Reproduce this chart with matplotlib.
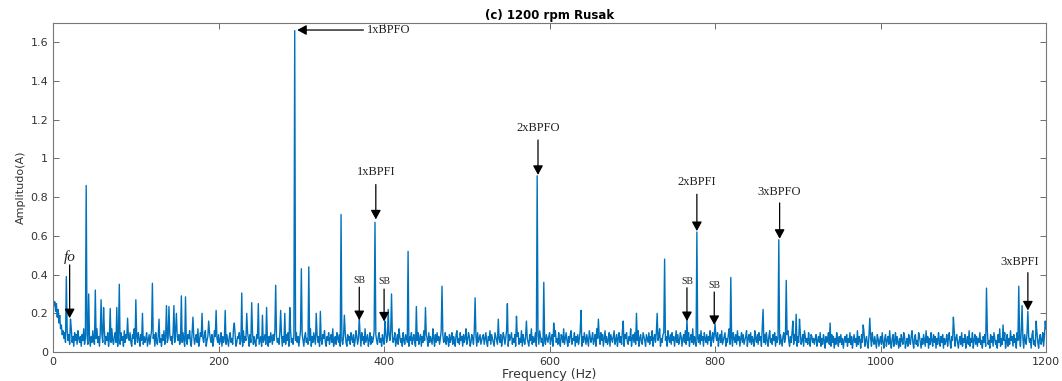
import numpy as np
import matplotlib
matplotlib.use("Agg")
import matplotlib.pyplot as plt
from matplotlib.ticker import FormatStrFormatter

# noise floor of the spectrum, 1 Hz bins from 0 to 1200 Hz, in units of 0.01 A
floor_raw = [
    27, 24, 26, 21, 25, 18, 22, 15, 19, 12, 14, 9, 11, 7, 10, 5, 8, 11, 6, 9, 4, 7, 12, 5, 8, 3, 10, 6, 9, 4, 11, 7, 5, 8, 3, 9, 6, 12, 4, 7,
    6, 9, 4, 10, 7, 3, 8, 5, 11, 6, 4, 9, 7, 12, 5, 8, 3, 10, 6, 9, 5, 7, 11, 4, 8, 6, 10, 3, 7, 9, 5, 12, 6, 4, 8, 10, 5, 7, 3, 9,
    7, 4, 10, 6, 8, 3, 11, 5, 9, 7, 4, 8, 6, 10, 5, 3, 9, 7, 12, 4, 6, 8, 5, 10, 7, 3, 9, 6, 11, 4, 8, 5, 7, 10, 3, 6, 9, 4, 8, 11,
    5, 7, 9, 3, 10, 6, 4, 8, 12, 5, 7, 3, 9, 6, 11, 4, 8, 10, 5, 7, 3, 9, 6, 8, 4, 10, 7, 5, 11, 3, 8, 6, 9, 4, 7, 12, 5, 10, 6, 3,
    8, 6, 4, 9, 7, 11, 5, 3, 10, 6, 8, 4, 7, 9, 5, 12, 3, 6, 10, 8, 4, 7, 5, 9, 11, 3, 6, 8, 4, 10, 7, 5, 9, 3, 6, 11, 8, 4, 7, 5,
    9, 4, 6, 10, 3, 8, 5, 7, 11, 4, 9, 6, 3, 8, 10, 5, 7, 4, 12, 6, 9, 3, 5, 8, 7, 10, 4, 6, 9, 3, 11, 5, 8, 6, 4, 10, 7, 3, 9, 5,
    6, 10, 4, 8, 5, 3, 9, 7, 11, 4, 6, 8, 3, 10, 5, 7, 9, 4, 12, 6, 3, 8, 5, 10, 7, 4, 9, 6, 11, 3, 8, 5, 7, 4, 10, 6, 9, 3, 8, 5,
    7, 4, 9, 6, 10, 3, 8, 11, 5, 7, 4, 9, 13, 6, 10, 5, 8, 3, 7, 11, 4, 9, 6, 3, 8, 10, 5, 7, 4, 9, 6, 12, 3, 8, 5, 10, 7, 4, 6, 9,
    5, 8, 3, 10, 6, 4, 9, 7, 11, 5, 3, 8, 6, 10, 4, 7, 9, 5, 12, 3, 6, 8, 4, 10, 7, 5, 9, 3, 11, 6, 4, 8, 7, 10, 5, 3, 9, 6, 8, 4,
    10, 7, 5, 9, 3, 6, 11, 8, 4, 7, 5, 9, 3, 10, 6, 8, 4, 12, 5, 7, 9, 3, 6, 10, 4, 8, 5, 7, 11, 3, 9, 6, 4, 8, 10, 5, 7, 3, 9, 6,
    4, 8, 10, 5, 7, 3, 9, 6, 11, 4, 8, 5, 7, 10, 3, 6, 9, 4, 12, 8, 5, 7, 3, 10, 6, 4, 9, 7, 5, 11, 3, 8, 6, 10, 4, 7, 9, 5, 3, 8,
    6, 10, 4, 7, 9, 3, 8, 5, 11, 6, 4, 9, 7, 3, 10, 5, 8, 6, 4, 12, 7, 3, 9, 5, 10, 6, 8, 4, 7, 11, 3, 9, 5, 6, 10, 4, 8, 7, 3, 9,
    5, 7, 10, 4, 8, 6, 3, 9, 11, 5, 7, 4, 10, 6, 8, 3, 9, 5, 7, 12, 4, 6, 10, 8, 3, 5, 9, 7, 4, 11, 6, 8, 3, 10, 5, 7, 9, 4, 6, 8,
    9, 4, 7, 10, 5, 3, 8, 6, 11, 4, 9, 7, 5, 3, 10, 8, 6, 4, 12, 7, 5, 9, 3, 6, 10, 8, 4, 7, 11, 5, 3, 9, 6, 8, 10, 4, 7, 5, 9, 3,
    6, 8, 10, 4, 7, 5, 11, 3, 9, 6, 4, 8, 10, 7, 5, 3, 9, 6, 12, 4, 8, 5, 7, 10, 3, 6, 9, 4, 11, 8, 5, 7, 3, 10, 6, 4, 9, 7, 5, 8,
    10, 4, 7, 9, 3, 6, 8, 11, 5, 7, 4, 10, 6, 3, 9, 8, 5, 12, 4, 7, 10, 6, 3, 8, 5, 9, 11, 4, 7, 6, 10, 3, 8, 5, 9, 4, 7, 11, 6, 3,
    8, 5, 10, 7, 4, 9, 6, 3, 11, 8, 5, 7, 10, 4, 6, 9, 3, 12, 7, 5, 8, 4, 10, 6, 9, 3, 7, 11, 5, 8, 4, 6, 10, 3, 9, 7, 5, 8, 11, 4,
    6, 9, 3, 7, 10, 5, 8, 4, 11, 6, 3, 9, 7, 10, 5, 4, 8, 6, 12, 3, 7, 9, 5, 10, 4, 8, 6, 11, 3, 7, 9, 5, 4, 10, 8, 6, 3, 9, 7, 5,
    10, 4, 8, 6, 11, 3, 7, 9, 5, 10, 4, 6, 8, 12, 3, 7, 5, 9, 10, 4, 6, 8, 3, 11, 7, 5, 9, 4, 10, 6, 8, 3, 7, 11, 5, 9, 4, 6, 10, 8,
    3, 7, 9, 5, 11, 4, 8, 6, 10, 3, 7, 9, 5, 12, 4, 8, 6, 3, 10, 7, 5, 9, 4, 11, 6, 8, 3, 10, 7, 5, 9, 4, 8, 6, 11, 3, 7, 10, 5, 9,
    4, 8, 6, 10, 3, 7, 9, 5, 11, 4, 6, 8, 10, 3, 7, 5, 9, 12, 4, 6, 8, 3, 10, 7, 5, 9, 4, 11, 6, 8, 3, 7, 10, 5, 9, 4, 6, 8, 11, 3,
    7, 9, 5, 10, 4, 8, 6, 3, 11, 7, 5, 9, 4, 10, 6, 8, 3, 12, 7, 5, 9, 4, 10, 6, 3, 8, 11, 5, 7, 4, 9, 6, 10, 3, 8, 5, 7, 11, 4, 9,
    6, 3, 8, 10, 5, 7, 4, 9, 11, 6, 3, 8, 5, 10, 7, 4, 9, 6, 12, 3, 8, 5, 7, 10, 4, 6, 9, 3, 11, 8, 5, 7, 4, 10, 6, 3, 9, 8, 5, 7,
    4, 7, 9, 3, 6, 8, 5, 10, 3, 7, 4, 9, 6, 2, 8, 5, 7, 10, 4, 6, 3, 9, 5, 8, 2, 7, 4, 10, 6, 3, 8, 5, 9, 4, 7, 2, 6, 8, 5, 9,
    3, 7, 5, 10, 4, 8, 2, 6, 9, 5, 7, 3, 11, 4, 8, 6, 2, 9, 5, 7, 10, 3, 6, 8, 4, 2, 9, 5, 7, 3, 10, 6, 4, 8, 5, 2, 9, 7, 3, 6,
    8, 4, 10, 5, 2, 7, 9, 3, 6, 8, 4, 11, 5, 2, 7, 9, 3, 6, 10, 4, 8, 5, 2, 7, 3, 9, 6, 4, 10, 8, 2, 5, 7, 3, 9, 6, 4, 8, 11, 5,
    2, 7, 9, 4, 6, 3, 10, 8, 5, 2, 7, 4, 9, 6, 3, 11, 5, 8, 2, 7, 4, 10, 6, 3, 9, 5, 8, 2, 7, 4, 10, 6, 3, 8, 5, 9, 2, 7, 4, 6,
    9, 3, 7, 10, 5, 2, 8, 6, 4, 11, 3, 7, 9, 5, 2, 6, 8, 4, 10, 3, 7, 5, 9, 2, 6, 8, 4, 11, 3, 7, 5, 10, 2, 6, 9, 4, 8, 3, 7, 5,
    10, 4, 6, 2, 8, 5, 9, 3, 7, 11, 4, 6, 2, 9, 5, 8, 3, 10, 7, 4, 6, 2, 9, 5, 12, 3, 7, 4, 8, 6, 10, 2, 5, 9, 3, 7, 4, 11, 6, 8,
    3, 9, 5, 7, 2, 10, 6, 4, 8, 3, 11, 5, 7, 2, 9, 6, 4, 10, 3, 8, 5, 7, 2, 9, 11, 4, 6, 3, 8, 10, 5, 2, 7, 9, 4, 6, 10, 3, 8, 5, 12,
]

# spectral lines standing above the floor (Hz, A)
peak_freq = [16, 21, 40, 43, 51, 58, 61, 69, 77, 80, 90, 100, 108, 120, 128, 137, 140, 146, 149,
             155, 160, 169, 180, 188, 197, 208, 219, 228, 234, 240, 248, 253, 258, 269, 275, 280,
             286, 292, 300, 309, 318, 323, 348, 352, 370, 389, 401, 405, 409, 429, 439, 450, 470,
             510, 538, 549, 560, 572, 585, 593, 605, 638, 659, 689, 705, 730, 739, 766, 778, 800,
             819, 858, 877, 886, 894, 898, 902, 939, 979, 987, 1088, 1128, 1148, 1167, 1171, 1178,
             1188, 1199]
peak_amp = [0.39, 0.17, 0.86, 0.30, 0.32, 0.27, 0.23, 0.225, 0.23, 0.35, 0.175, 0.27, 0.20, 0.355,
            0.17, 0.24, 0.235, 0.24, 0.20, 0.29, 0.285, 0.18, 0.20, 0.16, 0.215, 0.215, 0.15, 0.305,
            0.20, 0.255, 0.25, 0.19, 0.23, 0.345, 0.215, 0.20, 0.23, 1.66, 0.43, 0.44, 0.20, 0.21,
            0.71, 0.19, 0.18, 0.67, 0.16, 0.22, 0.30, 0.52, 0.235, 0.23, 0.34, 0.28, 0.17, 0.25,
            0.185, 0.16, 0.91, 0.36, 0.15, 0.215, 0.17, 0.16, 0.20, 0.20, 0.48, 0.17, 0.62, 0.145,
            0.385, 0.22, 0.58, 0.37, 0.16, 0.195, 0.17, 0.15, 0.14, 0.175, 0.18, 0.33, 0.14, 0.34,
            0.24, 0.21, 0.16, 0.16]

# annotations: label, text position, arrow start, arrow tip
labels = ["1xBPFO", "2xBPFO", "1xBPFI", "2xBPFI", "3xBPFO", "3xBPFI", "SB", "SB", "SB", "SB"]
text_xy = [(379, 1.663), (586, 1.125), (390, 0.90), (778, 0.845), (878, 0.795), (1168, 0.435),
           (370, 0.345), (400, 0.34), (766, 0.342), (799, 0.32)]
arrow_from = [(375, 1.663), (586, 1.095), (390, 0.865), (778, 0.815), (878, 0.77), (1178, 0.41),
              (370, 0.335), (400, 0.325), (766, 0.332), (799, 0.31)]
arrow_to = [(295, 1.663), (586, 0.915), (390, 0.685), (778, 0.625), (878, 0.585), (1178, 0.215),
            (370, 0.165), (400, 0.158), (766, 0.16), (799, 0.14)]

freq = np.arange(len(floor_raw))
amp = np.array(floor_raw) * 0.01
for f, a in zip(peak_freq, peak_amp):
    amp[f] = a

fig = plt.figure(figsize=(10.62, 3.81), dpi=100)
ax = fig.add_axes([0.050, 0.076, 0.935, 0.864])
ax.plot(freq, amp, color="#0072BD", lw=1.0)

ax.set_xlim(0, 1200)
ax.set_ylim(0, 1.7)
ax.set_xticks(np.arange(0, 1201, 200))
ax.set_yticks(np.arange(0, 1.61, 0.2))
ax.yaxis.set_major_formatter(FormatStrFormatter("%g"))
ax.tick_params(direction="in", top=True, right=True, length=4, width=0.6,
               color="#555555", labelsize=8, labelcolor="#333333")
for s in ax.spines.values():
    s.set_color("#777777")
    s.set_linewidth(0.8)

ax.set_title("(c) 1200 rpm Rusak", fontsize=8.5, fontweight="bold", pad=3)
ax.set_xlabel("Frequency (Hz)", fontsize=9, color="#333333", labelpad=1)
ax.set_ylabel("Amplitudo(A)", fontsize=8, color="#333333", labelpad=3)

head = "-|>,head_length=0.55,head_width=0.3"
for lab, txy, a0, a1 in zip(labels, text_xy, arrow_from, arrow_to):
    ax.annotate("", xy=a1, xytext=a0,
                arrowprops=dict(arrowstyle=head, color="black", lw=0.9,
                                shrinkA=0, shrinkB=0))
    if lab == "1xBPFO":
        ax.text(txy[0], txy[1], lab, ha="left", va="center", fontsize=9,
                family="Liberation Serif", color="#222222")
    elif lab == "SB":
        ax.text(txy[0], txy[1], lab, ha="center", va="bottom", fontsize=7,
                family="Liberation Serif", color="#222222")
    else:
        ax.text(txy[0], txy[1], lab, ha="center", va="bottom", fontsize=9,
                family="Liberation Serif", color="#222222", clip_on=False)

ax.annotate("", xy=(20, 0.175), xytext=(20, 0.45),
            arrowprops=dict(arrowstyle=head, color="black", lw=0.9,
                            shrinkA=0, shrinkB=0))
ax.text(20, 0.455, "fo", ha="center", va="bottom", fontsize=11, style="italic",
        family="Liberation Serif", color="#222222")

fig.savefig("out.png", dpi=100)
